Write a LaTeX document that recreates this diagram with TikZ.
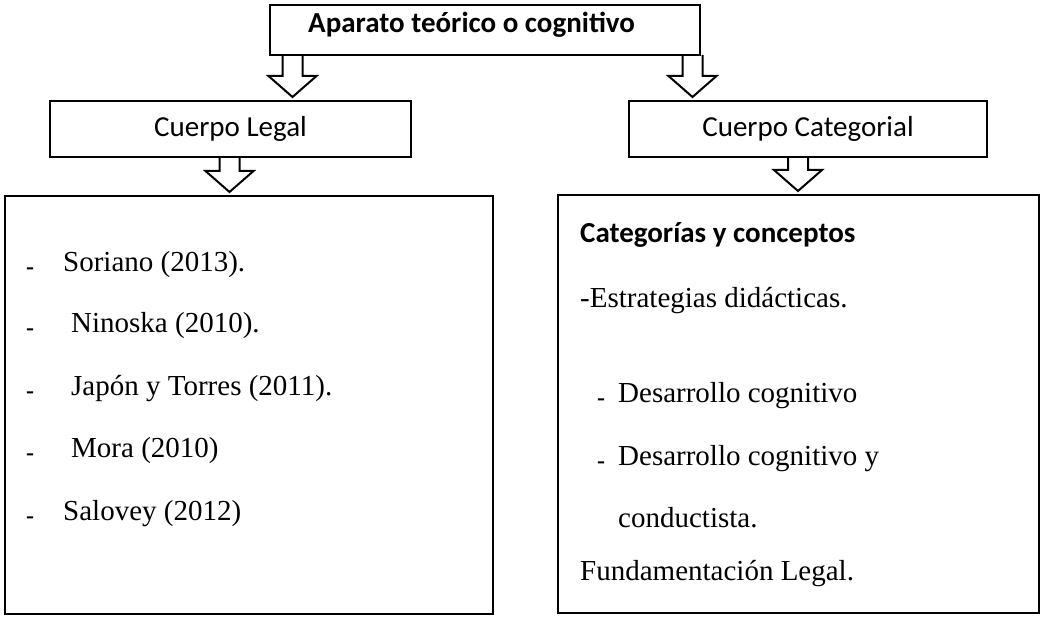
\documentclass[tikz,border=0pt]{standalone}
\usepackage{fontspec}
\setmainfont{Liberation Serif}
\newfontfamily\calibri{Carlito}
\usetikzlibrary{calc}

% hollow block arrow: #1 = x of the shaft, #2 = from node, #3 = to node
\newcommand{\hollowarrow}[3]{%
  \draw[hollow] ($(#1,0 |- #2.south)+(-10,0)$) -- ($(#1,0 |- #3.north)+(-10,-25)$)
    -- ++(-14,0) -- ($(#1,0 |- #3.north)+(0,-4)$) -- ($(#1,0 |- #3.north)+(24,-25)$)
    -- ++(-14,0) -- ($(#1,0 |- #2.south)+(10,0)$);
}

\begin{document}
\begin{tikzpicture}[x=1pt, y=-1pt,
  box/.style={draw, line width=2.5pt, inner sep=0pt, outer sep=0pt},
  head/.style={font=\calibri\fontsize{29}{34}\selectfont},
  title/.style={inner sep=0pt, anchor=base west, font=\calibri\bfseries\fontsize{29}{34}\selectfont},
  item/.style={inner sep=0pt, anchor=base west, font=\fontsize{29}{34}\selectfont},
  bullet/.style={inner sep=0pt, anchor=base west, font=\fontsize{24}{24}\selectfont\bfseries},
  hollow/.style={draw, line width=2pt, line join=miter},
]
\useasboundingbox (0,0) rectangle (1041,617);

% Boxes
\node[box, minimum width=430pt, minimum height=50pt] (apparatus) at (485,30) {};
\node[title] (apparatustxt) at (308,33) {Aparato teórico o cognitivo};
\node[box, head, minimum width=361pt, minimum height=56pt] (legal) at (230.5,129) {Cuerpo Legal};
\node[box, head, minimum width=358pt, minimum height=56pt] (categorial) at (808,129) {Cuerpo Categorial};
\node[box, minimum width=488pt, minimum height=418pt] (legalbox) at (249,405) {};
\node[box, minimum width=481pt, minimum height=418pt] (catbox) at (798.5,404) {};

% Arrows
\hollowarrow{292.5}{apparatus}{legal}
\hollowarrow{692.5}{apparatus}{categorial}
\hollowarrow{229.5}{legal}{legalbox}
\hollowarrow{798}{categorial}{catbox}

% Left list
\foreach \y/\x/\txt [count=\i] in {272/63/{Soriano (2013).}, 333/71/{Ninoska (2010).},
    395/71/{Japón y Torres (2011).}, 457/71/{Mora (2010)}, 520/63/{Salovey (2012)}} {
  \node[bullet] (ldash\i) at (26,\y+3) {-};
  \node[item] (litem\i) at (\x,\y) {\txt};
}

% Right list
\node[title] (cattitle) at (580,243) {Categorías y conceptos};
\node[item] (strat) at (580,308) {-Estrategias didácticas.};
\node[bullet] (rdash1) at (597,405) {-};
\node[item] (desa1) at (618,402) {Desarrollo cognitivo};
\node[bullet] (rdash2) at (597,468) {-};
\node[item] (desa2) at (618,465) {Desarrollo cognitivo y};
\node[item] (conduct) at (618,527) {conductista.};
\node[item] (fund) at (580,580) {Fundamentación Legal.};

\end{tikzpicture}
\end{document}
